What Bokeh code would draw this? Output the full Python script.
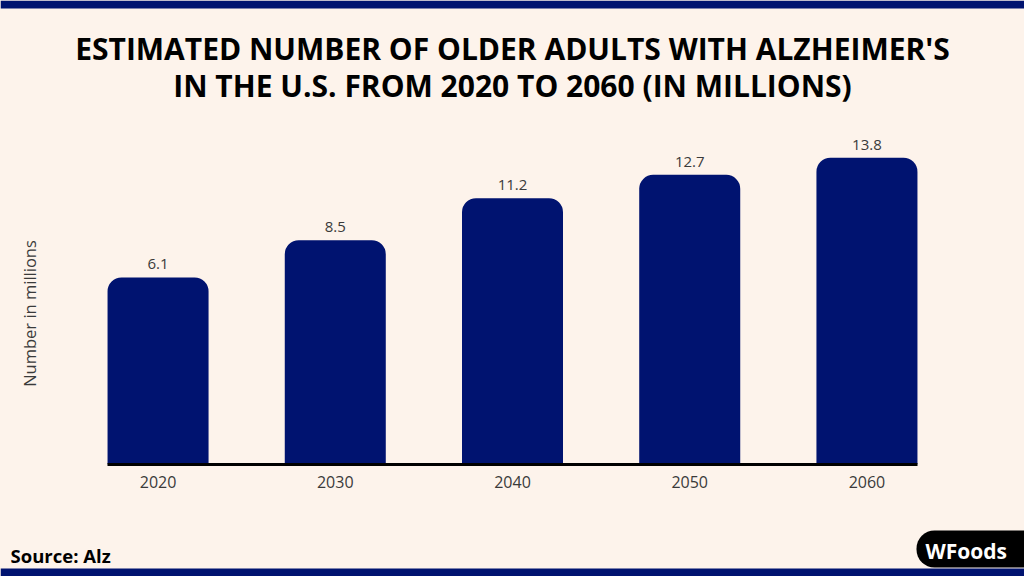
import math
from bokeh.plotting import figure
from bokeh.layouts import column
from bokeh.models import Range1d, FixedTicker, Label, LabelSet, ColumnDataSource, BoxAnnotation
from bokeh.embed import file_html
from bokeh.resources import INLINE
from bokeh.core.properties import value

# ---- data ----
years = [2020, 2030, 2040, 2050, 2060]
values = [6.1, 8.5, 11.2, 12.7, 13.8]
value_labels = ["6.1", "8.5", "11.2", "12.7", "13.8"]
tick_labels = ["2020", "2030", "2040", "2050", "2060"]
title_lines = ["ESTIMATED NUMBER OF OLDER ADULTS WITH ALZHEIMER'S",
               "IN THE U.S. FROM 2020 TO 2060 (IN MILLIONS)"]
y_label = "Number in millions"
source_text = "Source: Alz"
logo_text = "WFoods"

# ---- style ----
BG = "#fdf3eb"
NAVY = "#001370"
TXT = "#3a3a3a"
FONT = "Open Sans"
W = 1024
BASE = -5.92          # value at the baseline (visual axis start)
TOP = 16.19
BAR_W = 5.7
X_LO, X_HI = 2011.11, 2068.89     # full-width x range
AX_LO, AX_HI = 2017.15, 2062.85   # baseline extent


def style(f):
    f.background_fill_color = BG
    f.border_fill_color = BG
    f.outline_line_color = None
    f.grid.visible = False
    return f


def plain(height, y_top, y_bottom):
    f = figure(width=W, height=height, output_backend="svg", toolbar_location=None,
               x_range=Range1d(0, W), y_range=Range1d(y_bottom, y_top),
               x_axis_location=None, y_axis_location=None, min_border=0, title=None,
               styles={"background-color": BG})
    return style(f)


# ---- header ----
head = plain(110, 0, 110)
head.add_layout(BoxAnnotation(top=0, bottom=8, fill_color=NAVY, fill_alpha=1, line_color=None))
for i, line in enumerate(title_lines):
    head.add_layout(Label(x=W / 2, y=47.5 + 37.5 * i, text=line, text_align="center",
                          text_baseline="middle", text_font=FONT, text_font_style="bold",
                          text_font_size="30px", text_color="black"))

# ---- main chart ----
src = ColumnDataSource(dict(year=years, value=values, label=value_labels))

p = figure(width=W, height=410, output_backend="svg", toolbar_location=None,
           x_range=Range1d(X_LO, X_HI), y_range=Range1d(BASE, TOP),
           y_axis_location=None, min_border_left=0, min_border_right=0,
           min_border_top=10, min_border_bottom=56, title=None,
           styles={"background-color": BG})
style(p)

p.vbar(x="year", top="value", bottom=BASE, width=BAR_W, source=src,
       fill_color=NAVY, line_color=None, border_radius=(14, 14, 0, 0))

p.add_layout(LabelSet(x="year", y="value", text="label", source=src,
                      y_offset=8, text_align="center", text_baseline="alphabetic",
                      text_font=value(FONT), text_font_size=value("15px"),
                      text_color=TXT))

xa = p.xaxis[0]
xa.bounds = (AX_LO, AX_HI)
xa.ticker = FixedTicker(ticks=years)
xa.major_label_overrides = {y: t for y, t in zip(years, tick_labels)}
xa.axis_line_color = "black"
xa.axis_line_width = 3
xa.major_tick_line_color = None
xa.minor_tick_line_color = None
xa.major_label_standoff = 5
xa.major_label_text_font = FONT
xa.major_label_text_font_size = "16px"
xa.major_label_text_color = TXT

# y axis title (frame-relative screen position)
p.add_layout(Label(x=29, y=151, x_units="screen", y_units="screen", text=y_label,
                   angle=math.pi / 2, text_align="center", text_baseline="middle",
                   text_font=FONT, text_font_size="16.5px", text_color=TXT))

# ---- footer ----
foot = plain(56, 520, 576)
foot.add_layout(BoxAnnotation(top=568, bottom=576, fill_color=NAVY, fill_alpha=1, line_color=None))
foot.add_layout(Label(x=10, y=555, text=source_text, text_align="left",
                      text_baseline="alphabetic", text_font=FONT, text_font_style="bold",
                      text_font_size="18.5px", text_color="black"))
foot.add_layout(BoxAnnotation(left=916, right=W + 30, top=530, bottom=567,
                              fill_color="black", fill_alpha=1, line_color=None,
                              border_radius=18))
foot.add_layout(Label(x=925, y=550, text=logo_text, text_align="left",
                      text_baseline="middle", text_font=FONT, text_font_style="bold",
                      text_font_size="21px", text_color="white"))

layout = column(head, p, foot, spacing=0, styles={"background-color": BG})
open("out.html", "w").write(file_html(layout, INLINE))
